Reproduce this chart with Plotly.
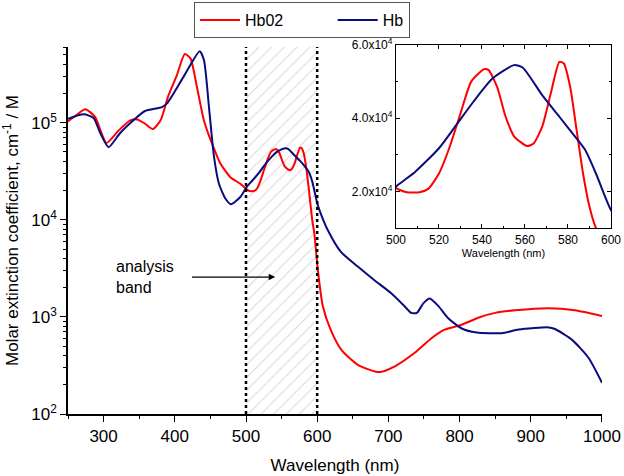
import plotly.graph_objects as go

# HbO2 spectrum (nm, cm^-1/M)
wl_hbo2 = [250, 262, 274, 288, 304, 321, 337, 347, 358, 369, 380, 391, 403, 414, 422,
           431, 441, 453, 464, 478, 492, 501, 505, 511, 515, 520, 525, 530, 535, 541,
           543, 547, 551, 555, 561, 564, 568, 572, 576, 578, 581, 584, 587, 590, 593,
           596, 601, 608, 619, 634, 657, 687, 709, 737, 760, 779, 803, 826, 850, 878,
           925, 962, 1000]
eps_hbo2 = [1.03e5, 1.2e5, 1.38e5, 1.15e5, 6.2e4, 8.3e4, 1.05e5, 1.08e5, 9.8e4, 8.6e4,
            1.06e5, 1.9e5, 3.1e5, 5.1e5, 4.6e5, 2.35e5, 1.05e5, 5.9e4, 3.8e4, 2.75e4,
            2.35e4, 2.06e4, 1.98e4, 1.98e4, 2.07e4, 2.49e4, 3.22e4, 4.13e4, 5.0e4, 5.34e4,
            5.32e4, 4.86e4, 4.04e4, 3.5e4, 3.24e4, 3.31e4, 3.77e4, 4.68e4, 5.54e4, 5.5e4,
            4.86e4, 3.68e4, 2.49e4, 1.58e4, 1.0e4, 7.2e3, 3.0e3, 1.28e3, 735, 457,
            321, 270, 310, 427, 600, 740, 830, 980, 1100, 1170,
            1230, 1170, 1020]

# Hb spectrum
wl_hb = [250, 272, 286, 295, 307, 323, 342, 358, 382, 389, 412, 435, 441, 448, 455,
         462, 471, 479, 492, 501, 509, 520, 528, 536, 545, 555, 559, 568, 576, 582,
         588, 593, 600, 605, 615, 633, 657, 680, 704, 723, 732, 740, 749, 758, 770,
         784, 803, 824, 859, 883, 925, 934, 958, 981, 1000]
eps_hb = [1.1e5, 1.22e5, 1.12e5, 7.9e4, 5.6e4, 7.8e4, 1.06e5, 1.32e5, 1.45e5, 1.58e5,
          2.95e5, 5.46e5, 4.4e5, 1.45e5, 4.5e4, 2.35e4, 1.66e4, 1.45e4, 1.72e4, 2.18e4,
          2.54e4, 3.18e4, 3.81e4, 4.45e4, 5.09e4, 5.45e4, 5.38e4, 4.63e4, 4.04e4, 3.59e4,
          3.13e4, 2.49e4, 1.49e4, 1.16e4, 7.8e3, 4.7e3, 3.3e3, 2.4e3, 1.75e3, 1.28e3,
          1.1e3, 1.1e3, 1.38e3, 1.55e3, 1.3e3,
          970, 760, 690, 680, 740, 780, 750, 580, 380, 210]

band = [500, 600]
y_ticks = [1e2, 1e3, 1e4, 1e5]
y_ticktext = ["10<sup>2</sup>", "10<sup>3</sup>", "10<sup>4</sup>", "10<sup>5</sup>"]
inset_ticks = [2e4, 4e4, 6e4]
inset_ticktext = ["2.0x10<sup>4</sup>", "4.0x10<sup>4</sup>", "6.0x10<sup>4</sup>"]

RED = "#ff0000"
BLUE = "#0b0b7e"
LOG_TOP = 5.78
y_top = 10 ** LOG_TOP

fig = go.Figure()

# hatched analysis band
fig.add_trace(go.Scatter(
    x=[band[0], band[1], band[1], band[0], band[0]],
    y=[100, 100, y_top, y_top, 100],
    fill="toself", mode="lines", line=dict(width=0),
    fillcolor="rgba(0,0,0,0)",
    fillpattern=dict(shape="/", fgcolor="#b4b4b4", bgcolor="white", size=9, solidity=0.12),
    showlegend=False, hoverinfo="skip"))

# trailing no-break spaces just widen the gap between the two legend entries
fig.add_trace(go.Scatter(x=wl_hbo2, y=eps_hbo2, mode="lines", name="Hb02" + "\u00a0" * 10,
                         line=dict(color=RED, width=2, shape="spline", smoothing=0.6)))
fig.add_trace(go.Scatter(x=wl_hb, y=eps_hb, mode="lines", name="Hb",
                         line=dict(color=BLUE, width=2, shape="spline", smoothing=0.6)))

# inset
fig.add_trace(go.Scatter(x=wl_hbo2, y=eps_hbo2, mode="lines", showlegend=False,
                         xaxis="x2", yaxis="y2",
                         line=dict(color=RED, width=2, shape="spline", smoothing=0.6)))
fig.add_trace(go.Scatter(x=wl_hb, y=eps_hb, mode="lines", showlegend=False,
                         xaxis="x2", yaxis="y2",
                         line=dict(color=BLUE, width=2, shape="spline", smoothing=0.6)))

for xb in band:
    fig.add_shape(type="line", xref="x", yref="y domain", x0=xb, x1=xb, y0=0, y1=1,
                  line=dict(color="black", width=2.5, dash="dot"))

fig.add_annotation(x=541, y=3.41, xref="x", yref="y", ax=422, ay=3.41, axref="x", ayref="y",
                   showarrow=True, arrowhead=2, arrowsize=1, arrowwidth=1.3, arrowcolor="black",
                   text="")
fig.add_annotation(x=315, y=3.41, xref="x", yref="y", xanchor="left", showarrow=False,
                   text="analysis<br>band", align="left", font=dict(size=16, color="black"))

minor_y = [m * 10 ** e for e in range(2, 6) for m in range(2, 10) if m * 10 ** e < y_top]

fig.update_layout(
    width=624, height=476,
    margin=dict(l=68, r=13, t=45, b=62, autoexpand=False),
    paper_bgcolor="white", plot_bgcolor="white",
    font=dict(family="Liberation Sans, Arial, sans-serif", color="black", size=16),
    legend=dict(orientation="h", x=0.232, y=1.1165, xanchor="left", yanchor="top",
                bordercolor="#555555", borderwidth=1, font=dict(size=16),
                itemwidth=40),
    xaxis=dict(domain=[0, 0.9834], range=[250, 1000], dtick=100, tick0=0,
               showline=True, linecolor="black", linewidth=1.5, ticks="outside",
               ticklen=6, tickcolor="black", showgrid=False, zeroline=False,
               minor=dict(ticks="outside", ticklen=3, dtick=50, tick0=0, tickcolor="black"),
               title=dict(text="Wavelength (nm)", font=dict(size=17), standoff=14),
               tickfont=dict(size=17)),
    yaxis=dict(domain=[0, 0.9946], type="log", range=[2, LOG_TOP],
               tickvals=y_ticks, ticktext=y_ticktext,
               showline=True, linecolor="black", linewidth=1.5, ticks="outside",
               ticklen=6, tickcolor="black", showgrid=False, zeroline=False,
               minor=dict(ticks="outside", ticklen=3, tickvals=minor_y, tickcolor="black"),
               title=dict(text="Molar extinction coefficient, cm<sup>-1</sup> / M",
                          font=dict(size=17), standoff=8),
               tickfont=dict(size=17)),
    xaxis2=dict(domain=[0.604, 1.0], anchor="y2", range=[500, 600], dtick=20,
                showline=True, mirror="allticks", linecolor="black", linewidth=1.2,
                ticks="inside", ticklen=4, tickcolor="black", showgrid=False, zeroline=False,
                minor=dict(ticks="inside", ticklen=2, dtick=10, tickcolor="black"),
                title=dict(text="Wavelength (nm)", font=dict(size=11), standoff=2),
                tickfont=dict(size=12)),
    yaxis2=dict(domain=[0.504, 1.0], anchor="x2", range=[1e4, 6e4],
                tickvals=inset_ticks, ticktext=inset_ticktext,
                showline=True, mirror="allticks", linecolor="black", linewidth=1.2,
                ticks="inside", ticklen=4, tickcolor="black", showgrid=False, zeroline=False,
                minor=dict(ticks="inside", ticklen=2, dtick=1e4, tickcolor="black"),
                tickfont=dict(size=12)),
)

# drop the browser's default body margin so the figure sits at the window corner
fig.write_html("out.html", config={"displayModeBar": False},
               post_script="document.body.style.margin = '0';")
